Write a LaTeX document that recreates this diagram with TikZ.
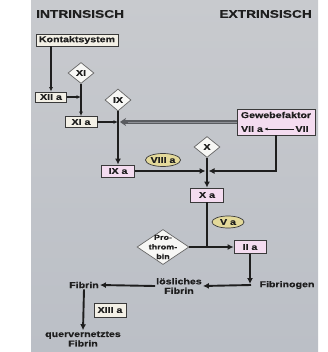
\documentclass[tikz,border=0pt]{standalone}
\usepackage{fontspec}
\setmainfont{Liberation Sans}[FakeStretch=1.25, BoldFeatures={FakeBold=0.5}]
\usetikzlibrary{shapes.geometric,arrows.meta,calc}
\definecolor{paneltop}{HTML}{C8CACE}
\definecolor{panelbot}{HTML}{BBBFC6}
\definecolor{ink}{HTML}{1E1E1E}
\definecolor{bord}{HTML}{3A3A3A}
\definecolor{cream}{HTML}{F3F0E6}
\definecolor{pinkf}{HTML}{F4DCF0}
\definecolor{ellf}{HTML}{E3D99A}
\definecolor{diaf}{HTML}{F7F7F5}
\definecolor{diad}{HTML}{666666}
\definecolor{dgray}{HTML}{5A5C60}
\definecolor{lgray}{HTML}{8E9096}
\begin{document}
\begin{tikzpicture}[x=1pt,y=-1pt,
  font=\bfseries\fontsize{8.5}{10}\selectfont,
  box/.style={rectangle, draw=bord, line width=0.8pt, inner xsep=3pt, inner ysep=1.5pt, minimum height=12pt, text=ink},
  cbox/.style={box, fill=cream},
  pbox/.style={box, fill=pinkf},
  dia/.style={diamond, draw=diad, fill=diaf, line width=0.7pt, minimum width=26pt, minimum height=21pt, inner sep=0pt, text=ink},
  ell/.style={ellipse, draw=bord, fill=ellf, line width=0.7pt, minimum width=33pt, minimum height=13pt, inner sep=0pt, text=ink},
  lbl/.style={text=ink, inner sep=1pt, align=center},
  thinarr/.style={line width=1.1pt, ink, -{Latex[length=4.5pt,width=4pt]}},
  thickarr/.style={line width=1.9pt, ink, -{Latex[length=6pt,width=6pt]}},
  thickln/.style={line width=1.9pt, ink}
]
\fill[white] (0,0) rectangle (327,352);
\shade[top color=paneltop, bottom color=panelbot] (31,0) rectangle (318,352);
\useasboundingbox (0,0) rectangle (327,352);

% titles
\node[lbl, anchor=west, font=\bfseries\fontsize{11}{13}\selectfont] (tin) at (35,14) {INTRINSISCH};
\node[lbl, anchor=east, font=\bfseries\fontsize{11}{13}\selectfont] (tex) at (313,14) {EXTRINSISCH};

% nodes
\node[cbox, minimum width=82pt] (kon) at (77,40) {Kontaktsystem};
\node[dia] (xi) at (81,73) {XI};
\node[cbox, minimum width=31pt, minimum height=10pt, inner ysep=0.5pt] (xiia) at (51,97) {XII a};
\node[cbox, minimum width=32pt, minimum height=11pt] (xia) at (81,122) {XI a};
\node[dia, minimum width=26pt, minimum height=22pt] (ix) at (118,100) {IX};

\node[pbox, minimum width=78pt, minimum height=26pt] (gf) at (276,122) {};
\node[lbl] (gft) at (276,115) {Gewebefaktor};
\node[lbl] (viia) at (252,129) {VII a};
\node[lbl] (vii) at (302,129) {VII};
\draw[line width=0.8pt, ink, -{Latex[length=3.5pt,width=3pt]}] (vii.west) -- (viia.east);

\node[pbox, minimum width=33pt] (ixa) at (118,171) {IX a};
\node[ell] (viiia) at (163,160) {VIII a};
\node[dia] (x) at (207,147) {X};
\node[pbox, minimum width=33pt, minimum height=14pt] (xa) at (207,195) {X a};
\node[ell, minimum width=32pt, minimum height=12pt] (va) at (228,222) {V a};
\node[diamond, draw=diad, fill=diaf, line width=0.7pt, minimum width=52pt, minimum height=35pt, inner sep=0pt] (pro) at (163,247) {};
\node[lbl, font=\bfseries\fontsize{7.2}{9.6}\selectfont] (prot) at (163,247) {Pro-\\throm-\\bin};
\node[pbox, minimum width=32pt, minimum height=13pt] (iia) at (250,247) {II a};

\node[lbl] (fbg) at (287,285) {Fibrinogen};
\node[lbl, font=\bfseries\fontsize{8.5}{9.5}\selectfont] (loes) at (179,286) {lösliches\\Fibrin};
\node[lbl] (fib) at (84,285) {Fibrin};
\node[cbox, minimum width=32pt, minimum height=14pt] (xiiia) at (110,310) {XIII a};
\node[lbl, font=\bfseries\fontsize{8.5}{9.5}\selectfont] (quer) at (83,339) {quervernetztes\\Fibrin};

% connectors intrinsic
\draw[thinarr] (xiia.north |- kon.south) -- (xiia.north);
\draw[line width=1.2pt, ink, -{Latex[length=4.5pt,width=4pt]}] (xi.south) -- (xia.north);
\coordinate (xiiaj) at (xiia.east -| xi.south);
\draw[thinarr] (xiia.east) -- (xiiaj);
\coordinate (xiaj) at (xia.east -| ix.south);
\draw[thinarr] (xia.east) -- (xiaj);
\draw[thickarr] (ix.south) -- (ixa.north);

% Gewebefaktor double line
\coordinate (gfj) at ($(gf.west -| ix.south)+(2,0)$);
\draw[line width=3.2pt, dgray, -{Stealth[length=6pt,width=8pt]}] (gf.west) -- (gfj);
\draw[line width=0.9pt, lgray] (gf.west) -- ($(gfj)+(8,0)$);

% common pathway
\coordinate (xj) at (ixa.east -| x.south);
\draw[thickarr] (ixa.east) -- ($(xj)+(-1.5,0)$);
\coordinate (gfc) at (gf.south |- ixa.east);
\draw[thickarr] (gf.south) -- (gfc) -- ($(xj)+(1.5,0)$);
\draw[thickarr] (x.south) -- (xa.north);
\coordinate (paj) at (xa.south |- pro.east);
\draw[thickln] (xa.south) -- (paj);
\draw[thickarr] (pro.east) -- (iia.west);
\coordinate (fj) at (iia.south |- fbg.west);
\draw[thickarr] (iia.south) -- ($(fj)+(0,-1)$);
\draw[thickarr] ($(fj)+(1,0)$) -- (loes.east);
\draw[thickarr] (loes.west) -- (fib.east);
\draw[thickarr] (fib.south) -- (quer.north);
\end{tikzpicture}
\end{document}
